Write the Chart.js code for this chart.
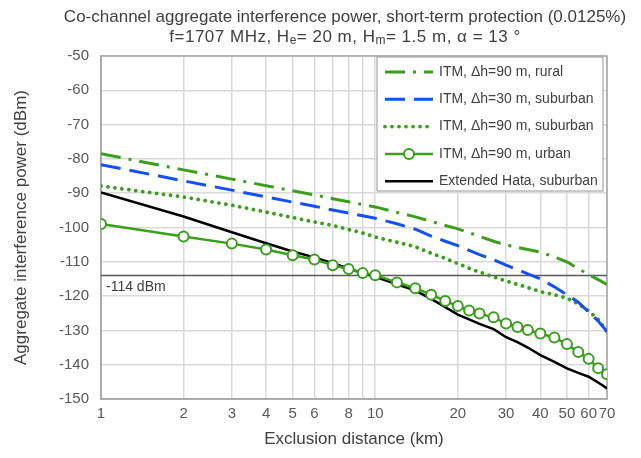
<!DOCTYPE html>
<html>
<head>
<meta charset="utf-8">
<script src="https://cdn.jsdelivr.net/npm/chart.js@4"></script>
<style>
html, body { margin: 0; padding: 0; background: #fff; }
</style>
</head>
<body>
<canvas id="chart" width="641" height="458"></canvas>
<script>
// exclusion distance (km), shared by all series
const distances = [1, 2, 3, 4, 5, 6, 7, 8, 9, 10, 12, 14, 16, 18, 20, 22, 24, 27, 30, 33, 36, 40, 45, 50, 55, 60, 65, 70];

// aggregate interference power (dBm)
const itmRural90 = [-78.5, -83.2, -85.9, -87.8, -89.3, -90.5, -91.6, -92.5, -93.3, -94.0, -95.6, -96.9, -98.2, -99.4, -100.4, -101.5, -102.6, -104.0, -105.1, -105.8, -106.4, -107.2, -108.6, -110.0, -112.0, -113.7, -115.2, -116.6];
const itmSuburban30 = [-81.7, -86.4, -89.1, -91.1, -92.6, -93.8, -94.9, -95.8, -96.6, -97.3, -98.9, -100.5, -102.5, -104.0, -105.3, -106.7, -107.9, -109.4, -111.0, -112.3, -113.5, -115.0, -117.3, -119.6, -121.8, -124.6, -127.3, -130.3];
const itmSuburban90 = [-87.9, -91.1, -93.5, -95.5, -97.1, -98.4, -99.4, -100.6, -101.6, -102.8, -104.3, -105.6, -107.5, -109.0, -110.5, -111.9, -113.0, -114.4, -115.6, -116.6, -117.5, -118.7, -119.6, -120.6, -122.3, -124.3, -126.8, -130.4];
const itmUrban90 = [-99.0, -102.6, -104.7, -106.4, -108.1, -109.3, -111.0, -112.1, -113.3, -113.9, -116.0, -117.7, -119.6, -121.4, -122.9, -124.2, -125.1, -126.2, -128.0, -129.0, -129.9, -130.9, -132.1, -134.0, -136.3, -138.3, -141.0, -142.8];
const hataSuburban = [-89.8, -96.8, -101.4, -104.6, -107.0, -108.7, -110.4, -111.9, -113.3, -114.4, -116.6, -118.4, -120.8, -123.2, -125.4, -126.8, -128.1, -129.6, -132.0, -133.4, -135.0, -137.2, -139.2, -141.1, -142.4, -143.5, -145.2, -146.9];

const seriesLabels = ['ITM, \u0394h=90 m, rural', 'ITM, \u0394h=30 m, suburban', 'ITM, \u0394h=90 m, suburban', 'ITM, \u0394h=90 m, urban', 'Extended Hata, suburban'];

// axis ticks
const xGridValues = [1, 2, 3, 4, 5, 6, 7, 8, 9, 10, 20, 30, 40, 50, 60, 70];
const xTickLabels = [1, 2, 3, 4, 5, 6, 8, 10, 20, 30, 40, 50, 60, 70];
const thresholdDbm = -114;

const FONT = "'Liberation Sans', Arial, sans-serif";
const GREEN = '#3a9f1c';
const BLUE = '#1650f5';
const TEXT = '#404040';

function pts(ys) {
	return distances.map((d, i) => ({ x: d, y: ys[i] }));
}

const titlePlugin = {
	id: 'twoLineTitle',
	afterDraw(chart) {
		const ctx = chart.ctx;
		const cx = 345;
		ctx.save();
		ctx.fillStyle = TEXT;
		ctx.textBaseline = 'middle';
		ctx.textAlign = 'center';
		ctx.font = '17px ' + FONT;
		ctx.fillText('Co-channel aggregate interference power, short-term protection (0.0125%)', cx, 17);
		// second line with subscripts
		const parts = [['f=1707 MHz, H', 0], ['e', 1], ['= 20 m, H', 0], ['m', 1], ['= 1.5 m, \u03b1 = 13 \u00b0', 0]];
		const fontOf = p => (p[1] ? '12px ' : '17px ') + FONT;
		ctx.letterSpacing = '0.5px';
		let w = 0;
		parts.forEach(p => { ctx.font = fontOf(p); w += ctx.measureText(p[0]).width; });
		let x = cx - w / 2;
		ctx.textAlign = 'left';
		parts.forEach(p => {
			ctx.font = fontOf(p);
			ctx.fillText(p[0], x, p[1] ? 41 : 37);
			x += ctx.measureText(p[0]).width;
		});
		ctx.restore();
	}
};

const plotDecor = {
	id: 'plotDecor',
	beforeDatasetsDraw(chart) {
		const { ctx, chartArea: a, scales } = chart;
		ctx.save();
		ctx.strokeStyle = '#a6a6a6';
		ctx.lineWidth = 1.5;
		ctx.strokeRect(a.left, a.top, a.right - a.left, a.bottom - a.top);
		const y = scales.y.getPixelForValue(thresholdDbm);
		ctx.strokeStyle = '#595959';
		ctx.beginPath();
		ctx.moveTo(a.left, y);
		ctx.lineTo(a.right, y);
		ctx.stroke();
		ctx.fillStyle = TEXT;
		ctx.font = '14px ' + FONT;
		ctx.textBaseline = 'middle';
		ctx.fillText(thresholdDbm + ' dBm', a.left + 5, y + 12);
		ctx.restore();
	}
};

const legendBox = {
	id: 'legendBox',
	afterDraw(chart) {
		const { ctx, chartArea: a } = chart;
		const right = a.right - 4, top = a.top + 1, w = 226, h = 134;
		const left = right - w;
		ctx.save();
		ctx.fillStyle = '#fff';
		ctx.fillRect(left, top, w, h);
		ctx.strokeStyle = '#a6a6a6';
		ctx.lineWidth = 1.2;
		ctx.strokeRect(left, top, w, h);
		chart.data.datasets.forEach((ds, i) => {
			const y = top + 15 + i * 27.3;
			const x0 = left + 8, x1 = left + 56;
			ctx.strokeStyle = ds.borderColor;
			ctx.lineWidth = ds.borderWidth;
			ctx.lineCap = ds.borderCapStyle || 'butt';
			ctx.setLineDash(ds.borderDash || []);
			ctx.beginPath();
			ctx.moveTo(x0, y);
			ctx.lineTo(x1, y);
			ctx.stroke();
			ctx.setLineDash([]);
			ctx.lineCap = 'butt';
			if (ds.pointRadius > 0) {
				ctx.fillStyle = ds.pointBackgroundColor;
				ctx.lineWidth = ds.pointBorderWidth;
				ctx.beginPath();
				ctx.arc((x0 + x1) / 2, y, ds.pointRadius, 0, Math.PI * 2);
				ctx.fill();
				ctx.stroke();
			}
			ctx.fillStyle = TEXT;
			ctx.font = '14px ' + FONT;
			ctx.textBaseline = 'middle';
			ctx.fillText(ds.label, left + 62, y);
		});
		ctx.restore();
	}
};

new Chart(document.getElementById('chart'), {
	type: 'line',
	data: {
		datasets: [{
			label: seriesLabels[0],
			data: pts(itmRural90),
			borderColor: GREEN,
			borderWidth: 3,
			borderDash: [20, 8, 3, 8],
			pointRadius: 0
		}, {
			label: seriesLabels[1],
			data: pts(itmSuburban30),
			borderColor: BLUE,
			borderWidth: 3,
			borderDash: [20, 9],
			pointRadius: 0
		}, {
			label: seriesLabels[2],
			data: pts(itmSuburban90),
			borderColor: GREEN,
			borderWidth: 3.8,
			borderDash: [0.01, 7],
			borderCapStyle: 'round',
			pointRadius: 0
		}, {
			label: seriesLabels[3],
			data: pts(itmUrban90),
			borderColor: GREEN,
			borderWidth: 2.5,
			pointRadius: 5,
			pointBorderWidth: 2,
			pointBorderColor: GREEN,
			pointBackgroundColor: '#fff'
		}, {
			label: seriesLabels[4],
			data: pts(hataSuburban),
			borderColor: '#000',
			borderWidth: 2.5,
			pointRadius: 0
		}]
	},
	plugins: [plotDecor, legendBox, titlePlugin],
	options: {
		responsive: false,
		animation: false,
		layout: { padding: { top: 56, right: 34, bottom: 0, left: 0 } },
		plugins: {
			legend: { display: false },
			tooltip: { enabled: false }
		},
		scales: {
			x: {
				type: 'logarithmic',
				min: 1,
				max: 70,
				afterFit: s => { s.height = 59; },
				afterBuildTicks: s => { s.ticks = xGridValues.map(v => ({ value: v })); },
				grid: { color: '#d9d9d9', lineWidth: 1.5, drawTicks: false },
				border: { color: '#a6a6a6', width: 1.5 },
				ticks: {
					autoSkip: false,
					maxRotation: 0,
					padding: 6,
					color: '#595959',
					font: { family: FONT, size: 15 },
					callback: v => xTickLabels.includes(v) ? String(v) : ''
				},
				title: {
					display: true,
					text: 'Exclusion distance (km)',
					color: TEXT,
					font: { family: FONT, size: 17 },
					padding: { top: 0, bottom: 8 }
				}
			},
			y: {
				min: -150,
				max: -50,
				afterFit: s => { s.width = 101; },
				grid: { color: '#d9d9d9', lineWidth: 1.5, drawTicks: false },
				border: { color: '#a6a6a6', width: 1.5 },
				ticks: {
					stepSize: 10,
					padding: 12,
					color: '#595959',
					font: { family: FONT, size: 15 }
				},
				title: {
					display: true,
					text: 'Aggregate interference power (dBm)',
					color: TEXT,
					font: { family: FONT, size: 17 },
					padding: { top: 11, bottom: 0 }
				}
			}
		}
	}
});
</script>
</body>
</html>
